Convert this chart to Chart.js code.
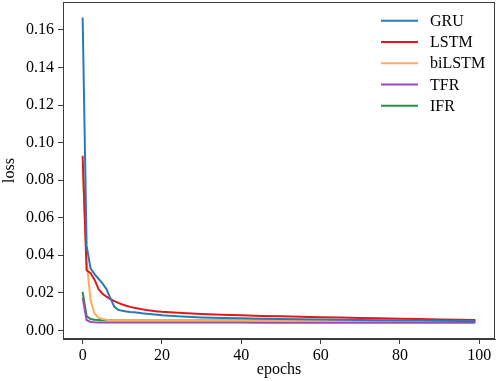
<!DOCTYPE html>
<html>
<head>
<meta charset="utf-8">
<script src="https://cdn.jsdelivr.net/npm/chart.js@4"></script>
<style>
  html, body { margin: 0; padding: 0; background: #fff; }
  #chart { display: block; }
</style>
</head>
<body>
<canvas id="chart" width="498" height="381"></canvas>
<script>
const epochs = [0, 1, 2, 3, 4, 5, 6, 7, 8, 9, 10, 11, 12, 13, 14, 15, 16, 17, 18, 19, 20,
  25, 30, 35, 40, 45, 50, 55, 60, 65, 70, 75, 80, 85, 90, 95, 99];

const gruLoss = [0.1667, 0.045, 0.033, 0.0300, 0.0275, 0.0250, 0.0220, 0.0170, 0.0125, 0.0110, 0.0104,
  0.0101, 0.0098, 0.0096, 0.0094, 0.0091, 0.0089, 0.0087, 0.0085, 0.0083, 0.0081,
  0.0074, 0.0069, 0.0066, 0.0064, 0.0062, 0.0060, 0.0059, 0.0058, 0.0056, 0.0055, 0.0054, 0.0053, 0.0052, 0.0051, 0.0050, 0.0049];
const lstmLoss = [0.093, 0.032, 0.0305, 0.0270, 0.0220, 0.0195, 0.0180, 0.0167, 0.0156, 0.0146, 0.0138,
  0.0131, 0.0125, 0.0120, 0.0116, 0.0112, 0.0109, 0.0106, 0.0103, 0.0101, 0.0099,
  0.0092, 0.0087, 0.0083, 0.0080, 0.0077, 0.0075, 0.0072, 0.0070, 0.0068, 0.0066, 0.0064, 0.0062, 0.0060, 0.0058, 0.0056, 0.0055];
const bilstmLoss = [0.088, 0.037, 0.016, 0.0090, 0.0068, 0.0060, 0.0056, 0.0054, 0.0053, 0.0053, 0.0053,
  0.0053, 0.0053, 0.0053, 0.0053, 0.0053, 0.0053, 0.0053, 0.0053, 0.0053, 0.0053,
  0.0052, 0.0052, 0.0052, 0.0052, 0.0052, 0.0051, 0.0051, 0.0051, 0.0051, 0.0051, 0.0051, 0.0050, 0.0050, 0.0050, 0.0050, 0.0050];
const tfrLoss = [0.0175, 0.0055, 0.0045, 0.0043, 0.0042, 0.0042, 0.0042, 0.0042, 0.0042, 0.0042, 0.0042,
  0.0042, 0.0042, 0.0042, 0.0042, 0.0042, 0.0042, 0.0042, 0.0042, 0.0042, 0.0042,
  0.0042, 0.0042, 0.0042, 0.0042, 0.0041, 0.0041, 0.0041, 0.0041, 0.0041, 0.0041, 0.0041, 0.0040, 0.0040, 0.0040, 0.0040, 0.0040];
const ifrLoss = [0.0205, 0.0076, 0.0060, 0.0056, 0.0055, 0.0054, 0.0054, 0.0054, 0.0053, 0.0053, 0.0053,
  0.0053, 0.0053, 0.0053, 0.0053, 0.0053, 0.0053, 0.0053, 0.0053, 0.0053, 0.0053,
  0.0053, 0.0053, 0.0053, 0.0053, 0.0052, 0.0052, 0.0052, 0.0052, 0.0052, 0.0051, 0.0051, 0.0051, 0.0051, 0.0050, 0.0050, 0.0050];

const seriesNames = ['GRU', 'LSTM', 'biLSTM', 'TFR', 'IFR'];
const seriesColors = ['#2a7ab9', '#e0191c', '#fdaa5c', '#9a4db0', '#1f9444'];
const seriesValues = [gruLoss, lstmLoss, bilstmLoss, tfrLoss, ifrLoss];

const xTickValues = [0, 20, 40, 60, 80, 100];
const yTickValues = [0, 0.02, 0.04, 0.06, 0.08, 0.10, 0.12, 0.14, 0.16];

const serif = "'Liberation Serif', 'Times New Roman', serif";
const axisColor = '#3c3c3c';

// matplotlib-like box around the plot + legend without a frame
const framePlugin = {
  id: 'frame',
  afterDraw(chart) {
    const { ctx, chartArea } = chart;
    ctx.save();
    ctx.strokeStyle = axisColor;
    ctx.lineWidth = 1;
    ctx.strokeRect(chartArea.left + 0.5, chartArea.top + 0.5,
      chartArea.right - chartArea.left - 1, chartArea.bottom - chartArea.top - 1);

    // legend in upper right
    ctx.font = '16px ' + serif;
    ctx.textBaseline = 'middle';
    chart.data.datasets.forEach((ds, i) => {
      const y = 20.7 + i * 21.25;
      ctx.strokeStyle = ds.borderColor;
      ctx.lineWidth = 2;
      ctx.beginPath();
      ctx.moveTo(381, y);
      ctx.lineTo(418, y);
      ctx.stroke();
      ctx.fillStyle = '#000';
      ctx.fillText(ds.label, 430, y + 1);
    });
    ctx.restore();
  }
};

const ctx = document.getElementById('chart').getContext('2d');
new Chart(ctx, {
  type: 'line',
  data: {
    datasets: seriesNames.map((name, i) => ({
      label: name,
      data: epochs.map((e, j) => ({ x: e, y: seriesValues[i][j] })),
      borderColor: seriesColors[i],
      borderWidth: 2,
      pointRadius: 0,
      fill: false,
      tension: 0
    }))
  },
  options: {
    responsive: false,
    animation: false,
    layout: { padding: { top: 2, right: 3, left: 0, bottom: 0 } },
    plugins: {
      legend: { display: false },
      tooltip: { enabled: false }
    },
    scales: {
      x: {
        type: 'linear',
        min: -4.95,
        max: 103.95,
        afterBuildTicks: (scale) => { scale.ticks = xTickValues.map(v => ({ value: v })); },
        afterFit: (scale) => {
          scale.height = 42;
          scale.paddingLeft = 0;
          scale.paddingRight = 0;
        },
        ticks: {
          color: '#000',
          font: { family: serif, size: 16 },
          padding: 2,
          maxRotation: 0,
          autoSkip: false
        },
        grid: { drawOnChartArea: false, drawTicks: true, tickLength: 5, color: axisColor },
        border: { display: true, color: axisColor, width: 1 },
        title: {
          display: true,
          text: 'epochs',
          color: '#000',
          font: { family: serif, size: 16 },
          padding: { top: 0, bottom: 2 }
        }
      },
      y: {
        type: 'linear',
        min: -0.0046,
        max: 0.1749,
        afterBuildTicks: (scale) => { scale.ticks = yTickValues.map(v => ({ value: v })); },
        afterFit: (scale) => {
          scale.width = 63;
          scale.paddingTop = 0;
          scale.paddingBottom = 0;
        },
        ticks: {
          color: '#000',
          font: { family: serif, size: 16 },
          padding: 4,
          autoSkip: false,
          callback: (v) => v.toFixed(2)
        },
        grid: { drawOnChartArea: false, drawTicks: true, tickLength: 5, color: axisColor },
        border: { display: true, color: axisColor, width: 1 },
        title: {
          display: true,
          text: 'loss',
          color: '#000',
          font: { family: serif, size: 16 },
          padding: { top: 0, bottom: 0 }
        }
      }
    }
  },
  plugins: [framePlugin]
});
</script>
</body>
</html>
